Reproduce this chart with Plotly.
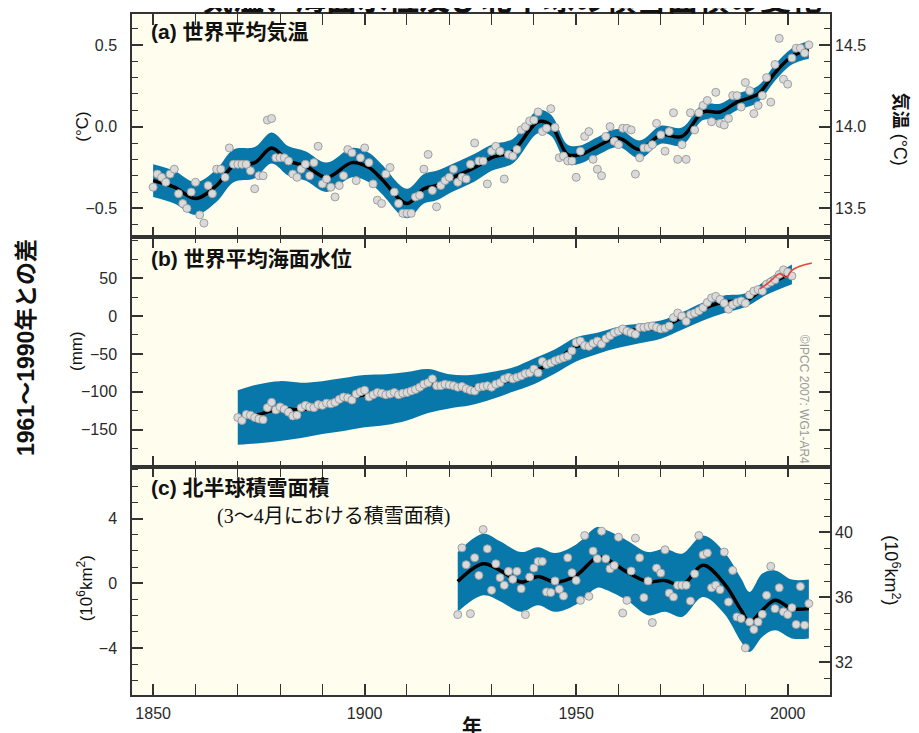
import plotly.graph_objects as go

# ---------------- data ----------------
# (a) global mean temperature anomaly (deg C, vs 1961-1990)
temp_start = 1850
temp_anom = [
    -0.37, -0.29, -0.31, -0.34, -0.29, -0.26, -0.41, -0.47, -0.50, -0.40,
    -0.34, -0.54, -0.59, -0.36, -0.41, -0.26, -0.26, -0.31, -0.13, -0.23,
    -0.23, -0.23, -0.23, -0.27, -0.38, -0.30, -0.30, 0.04, 0.05, -0.19,
    -0.19, -0.19, -0.21, -0.29, -0.31, -0.26, -0.23, -0.30, -0.22, -0.12,
    -0.35, -0.32, -0.37, -0.43, -0.36, -0.30, -0.14, -0.16, -0.33, -0.19,
    -0.13, -0.22, -0.35, -0.45, -0.47, -0.29, -0.25, -0.40, -0.47, -0.53,
    -0.53, -0.53, -0.43, -0.42, -0.26, -0.17, -0.39, -0.49, -0.36, -0.33,
    -0.31, -0.26, -0.34, -0.31, -0.32, -0.23, -0.10, -0.21, -0.21, -0.35,
    -0.15, -0.12, -0.15, -0.32, -0.17, -0.18, -0.14, -0.02, 0.00, 0.035,
    0.04, 0.09, -0.03, -0.01, 0.11, -0.005, -0.19, -0.18, -0.21, -0.21,
    -0.31, -0.15, -0.06, -0.03, -0.20, -0.26, -0.30, -0.06, 0.00, -0.09,
    -0.11, -0.01, -0.01, -0.02, -0.29, -0.19, -0.13, -0.13, -0.11, 0.02,
    -0.05, -0.15, -0.03, 0.085, -0.20, -0.11, -0.20, 0.085, -0.02, 0.085,
    0.13, 0.16, 0.03, 0.21, 0.02, 0.01, 0.05, 0.19, 0.19, 0.12,
    0.27, 0.22, 0.08, 0.13, 0.19, 0.30, 0.15, 0.38, 0.54, 0.29,
    0.26, 0.42, 0.48, 0.48, 0.45, 0.50,
]
temp_smooth_years = [1850, 1855, 1860, 1865, 1869, 1874, 1878, 1882, 1886, 1891,
                     1897, 1901, 1904, 1910, 1914, 1917, 1921, 1926, 1930, 1935,
                     1941, 1944, 1948, 1951, 1955, 1960, 1965, 1970, 1975, 1980,
                     1984, 1988, 1993, 1997, 2001, 2005]
temp_smooth = [-0.33, -0.37, -0.44, -0.36, -0.24, -0.22, -0.13, -0.21, -0.24, -0.31,
               -0.22, -0.25, -0.32, -0.47, -0.38, -0.36, -0.31, -0.25, -0.19, -0.15,
               0.03, 0.01, -0.17, -0.17, -0.12, -0.07, -0.14, -0.05, -0.06, 0.09,
               0.09, 0.15, 0.20, 0.33, 0.43, 0.47]
temp_upper = [-0.23, -0.27, -0.34, -0.26, -0.14, -0.125, -0.035, -0.12, -0.15, -0.22,
              -0.13, -0.16, -0.23, -0.38, -0.29, -0.27, -0.225, -0.165, -0.11, -0.075,
              0.10, 0.075, -0.11, -0.115, -0.065, -0.015, -0.085, 0.005, -0.005, 0.14,
              0.14, 0.20, 0.25, 0.38, 0.48, 0.525]
temp_lower = [-0.43, -0.47, -0.54, -0.46, -0.34, -0.315, -0.225, -0.30, -0.33, -0.40,
              -0.31, -0.34, -0.41, -0.56, -0.47, -0.45, -0.395, -0.335, -0.27, -0.225,
              -0.04, -0.055, -0.23, -0.225, -0.175, -0.125, -0.195, -0.105, -0.115, 0.04,
              0.04, 0.10, 0.15, 0.28, 0.38, 0.415]

# (b) global mean sea level (mm)
sea_start = 1870
sea_level = [
    -134, -138, -130, -131, -134, -136, -137, -121, -114, -124,
    -120, -123, -127, -132, -131, -121, -118, -120, -121, -117,
    -118, -115, -116, -114, -110, -107, -108, -111, -103, -100,
    -98, -107, -104, -101, -102, -104, -103, -101, -104, -102,
    -101, -99, -97, -94, -90, -88, -83, -92, -92, -90,
    -91, -92, -94, -93, -96, -98, -99, -94, -93, -92,
    -94, -90, -88, -83, -81, -83, -81, -79, -76, -75,
    -70, -75, -60, -64, -62, -59, -57, -55, -53, -46,
    -35, -33, -39, -40, -36, -33, -37, -30, -26, -22,
    -20, -17, -20, -22, -24, -15, -15, -14, -13, -15,
    -17, -16, -13, -2, 4, 0, -7, 2, 4, 7,
    11, 18, 24, 26, 22, 17, 9, 15, 18, 20,
    17, 28, 33, 35, 33, 42, 45, 48, 55, 61,
    58, 53,
]
sea_smooth_years = [1870, 1875, 1880, 1885, 1890, 1895, 1900, 1905, 1910, 1915,
                    1920, 1925, 1930, 1935, 1940, 1945, 1950, 1955, 1960, 1965,
                    1970, 1975, 1980, 1985, 1990, 1995, 2001]
sea_smooth = [-133, -130, -122, -124, -117, -110, -104, -102, -100, -90,
              -91, -95, -92, -83, -73, -60, -40, -35, -21, -18,
              -15, -2, 10, 19, 20, 40, 57]
sea_upper = [-98, -90, -86, -88, -86, -82, -78, -77, -74, -70,
             -77, -78, -74, -68, -56, -44, -28, -22, -14, -10,
             -6, 5, 18, 27, 30, 48, 68]
sea_lower = [-170, -168, -165, -161, -156, -152, -147, -144, -138, -128,
             -122, -118, -110, -100, -90, -76, -60, -50, -42, -36,
             -30, -18, -6, 4, 12, 28, 42]
sat_years = [1993.4, 1995.0, 1996.3, 1998.1, 1999.7, 2000.9, 2002.1, 2003.6, 2005.7]
sat_level = [36, 42, 48, 56, 51, 60, 64, 67, 70]

# (c) NH March-April snow cover (10^6 km^2)
snow_start = 1922
snow_anom = [
    -1.93, 2.19, 1.15, -1.87, 1.58, 0.49, 3.32, 2.13, -0.43, 1.21,
    0.35, -0.12, 0.74, 0.25, 0.74, -0.33, -1.93, 0.39, 0.94, 1.35,
    1.35, -0.53, -0.57, 0.15, -0.37, -0.78, 1.58, 0.66, 0.18, -1.05,
    2.95, -0.80, 1.99, 1.52, 3.22, 1.52, 0.90, 1.10, 2.85, -1.83,
    -1.05, 0.76, 2.79, 1.58, -0.88, 0.15, -2.42, 0.94, 0.64, 2.07,
    -0.60, -0.84, -0.12, -0.12, -0.12, -1.09, 0.59, 2.95, 1.76, 1.87,
    -0.27, -0.12, -0.39, 1.93, -1.15, 0.80, -2.07, -2.17, -3.98, -2.38,
    -2.85, -2.38, -1.91, -0.74, 1.05, -1.56, -0.27, -1.76, -1.93, -1.50,
    -2.54, -0.20, -2.58, -1.25,
]
snow_smooth_years = [1922, 1928, 1932, 1937, 1941, 1945, 1950, 1955, 1957, 1962,
                     1967, 1971, 1975, 1980, 1985, 1989, 1991, 1994, 1997, 2001, 2005]
snow_smooth = [0.12, 1.21, 0.80, 0.08, 0.43, 0.08, 0.49, 1.62, 1.52, 0.70,
               0.10, 0.18, -0.12, 1.11, -0.02, -1.66, -2.38, -1.66, -1.05, -1.56, -1.56]
snow_upper = [1.93, 3.06, 2.60, 1.93, 2.23, 1.87, 2.40, 3.47, 3.30, 2.65,
              1.93, 2.13, 1.83, 2.95, 1.93, 0.30, -0.53, 0.60, 0.80, 0.23, 0.23]
snow_lower = [-1.76, -0.74, -1.10, -1.76, -1.35, -1.76, -1.30, -0.27, -0.40, -1.05,
              -1.97, -1.76, -2.07, -0.84, -1.87, -3.60, -4.23, -3.30, -2.90, -3.40, -3.40]

# ---------------- style ----------------
BAND = "#0877A9"
BG = "#FEFDEE"
AX = "#333333"
TICKFONT = dict(family="Liberation Sans, Arial, sans-serif", size=16, color="#2a2a2a")
CJK = "Liberation Sans, Noto Sans CJK JP, sans-serif"

fig = go.Figure()


def add_panel(xa, ya, band_x, up, lo, sm_x, sm, pts_x, pts_y):
    fig.add_trace(go.Scatter(x=band_x, y=lo, mode="lines", line=dict(width=0, shape="spline", color=BAND),
                             xaxis=xa, yaxis=ya, showlegend=False, hoverinfo="skip"))
    fig.add_trace(go.Scatter(x=band_x, y=up, mode="lines", line=dict(width=0, shape="spline", color=BAND),
                             fill="tonexty", fillcolor=BAND,
                             xaxis=xa, yaxis=ya, showlegend=False, hoverinfo="skip"))
    fig.add_trace(go.Scatter(x=sm_x, y=sm, mode="lines", line=dict(width=3.5, shape="spline", color="black"),
                             xaxis=xa, yaxis=ya, showlegend=False))
    fig.add_trace(go.Scatter(x=pts_x, y=pts_y, mode="markers",
                             marker=dict(size=8, color="#DADADA", line=dict(width=1, color="#A0A0A0")),
                             xaxis=xa, yaxis=ya, showlegend=False))


temp_years = list(range(temp_start, temp_start + len(temp_anom)))
sea_years = list(range(sea_start, sea_start + len(sea_level)))
snow_years = list(range(snow_start, snow_start + len(snow_anom)))

add_panel("x", "y", temp_smooth_years, temp_upper, temp_lower, temp_smooth_years, temp_smooth,
          temp_years, temp_anom)
add_panel("x2", "y2", sea_smooth_years, sea_upper, sea_lower, sea_smooth_years, sea_smooth,
          sea_years, sea_level)
fig.add_trace(go.Scatter(x=sat_years, y=sat_level, mode="lines", line=dict(width=1.6, color="#E8463A", shape="spline"),
                         xaxis="x2", yaxis="y2", showlegend=False))
add_panel("x3", "y3", snow_smooth_years, snow_upper, snow_lower, snow_smooth_years, snow_smooth,
          snow_years, snow_anom)

# dummy traces so the right-hand axes are drawn
fig.add_trace(go.Scatter(x=[None], y=[None], xaxis="x", yaxis="y4", showlegend=False, hoverinfo="skip"))
fig.add_trace(go.Scatter(x=[None], y=[None], xaxis="x3", yaxis="y5", showlegend=False, hoverinfo="skip"))

minor_x = dict(dtick=10, tick0=1850, ticklen=6, tickwidth=1.2, tickcolor=AX, ticks="inside")


def xax(anchor, labels):
    return dict(range=[1845, 2010], domain=[0, 1], anchor=anchor, showline=True, linecolor=AX, linewidth=1.5,
                mirror="allticks", ticks="inside", ticklen=11, tickwidth=1.5, tickcolor=AX,
                dtick=50, tick0=1850, minor=minor_x, showgrid=False, zeroline=False,
                showticklabels=labels, tickfont=TICKFONT, ticklabelstandoff=3)


def yax(**kw):
    base = dict(showline=True, linecolor=AX, linewidth=1.5, ticks="inside", ticklen=11, tickwidth=1.5,
                tickcolor=AX, showgrid=False, zeroline=False, tickfont=TICKFONT, ticklabelstandoff=10)
    base.update(kw)
    return base


# screen coords (page has an 8px body margin): plot area spans x 132..830, y 12..695
H = 683.0
def py2y(p):
    return (695 - p) / H

def px2x(p):
    return (p - 132) / 698.0

dA = [py2y(236), 1]
dB = [py2y(466), py2y(236)]
dC = [0, py2y(466)]

fig.update_layout(
    width=919, height=733,
    margin=dict(l=124, r=97, t=4, b=46),
    paper_bgcolor="white", plot_bgcolor=BG,
    xaxis=xax("y", False),
    xaxis2=xax("y2", False),
    xaxis3=xax("y3", True),
    yaxis=yax(domain=dA, anchor="x", range=[-0.677, 0.689], dtick=0.5, tick0=0, tickformat=".1f", mirror=True,
              minor=dict(dtick=0.1, tick0=0, ticklen=6, tickwidth=1.2, tickcolor=AX, ticks="inside")),
    yaxis4=yax(overlaying="y", side="right", anchor="x", range=[13.323, 14.689], dtick=0.5, tick0=0,
               tickformat=".1f", showline=False, ticklabelstandoff=4,
               minor=dict(dtick=0.1, tick0=0, ticklen=6, tickwidth=1.2, tickcolor=AX, ticks="inside")),
    yaxis2=yax(domain=dB, anchor="x2", range=[-199, 104], tickmode="array",
               tickvals=[-150, -100, -50, 0, 50], mirror="allticks",
               minor=dict(tickmode="linear", dtick=25, tick0=0, ticklen=6, tickwidth=1.2, tickcolor=AX,
                          ticks="inside")),
    yaxis3=yax(domain=dC, anchor="x3", range=[-6.89, 7.2], dtick=4, tick0=0, mirror=True,
               minor=dict(dtick=1, tick0=0, ticklen=6, tickwidth=1.2, tickcolor=AX, ticks="inside")),
    yaxis5=yax(overlaying="y3", side="right", anchor="x3", range=[29.99, 44.04], tickmode="array",
               tickvals=[32, 36, 40], showline=False, ticklabelstandoff=4,
               minor=dict(tickmode="linear", dtick=1, tick0=0, ticklen=6, tickwidth=1.2, tickcolor=AX,
                          ticks="inside")),
)

anns = []
def ann(text, px, py, size, angle=0, xanchor="center", family=CJK, color="#111111"):
    anns.append(dict(text=text, x=px2x(px), y=py2y(py), xref="paper", yref="paper", showarrow=False,
                     textangle=angle, xanchor=xanchor, yanchor="middle",
                     font=dict(family=family, size=size, color=color)))

ann("<b>気温、海面水位及び北半球の積雪面積の変化</b>", 512, -3, 31)
ann("<b>(a) 世界平均気温</b>", 149, 30, 21, xanchor="left")
ann("<b>(b) 世界平均海面水位</b>", 149, 257, 21, xanchor="left")
ann("<b>(c) 北半球積雪面積</b>", 149, 487, 21, xanchor="left")
ann("(3～4月における積雪面積)", 215, 516, 20, xanchor="left",
    family="Liberation Serif, Noto Sans CJK JP, serif")
ann("<b>1961～1990年との差</b>", 26, 347, 23, angle=-90)
ann("(°C)", 83, 125, 17, angle=-90)
ann("(mm)", 76, 350, 17, angle=-90)
ann("(10<sup>6</sup>km<sup>2</sup>)", 85, 588, 17, angle=-90)
ann("<b>気温</b> (°C)", 900, 127, 18, angle=90)
ann("(10<sup>6</sup>km<sup>2</sup>)", 892, 570, 18, angle=90)
ann("©IPCC 2007: WG1-AR4", 804, 398, 12, angle=90, family="Liberation Sans, Arial, sans-serif",
    color="#9A9A9A")
ann("<b>年</b>", 472, 727, 20)

fig.update_layout(annotations=anns)

fig.write_html("out.html")
